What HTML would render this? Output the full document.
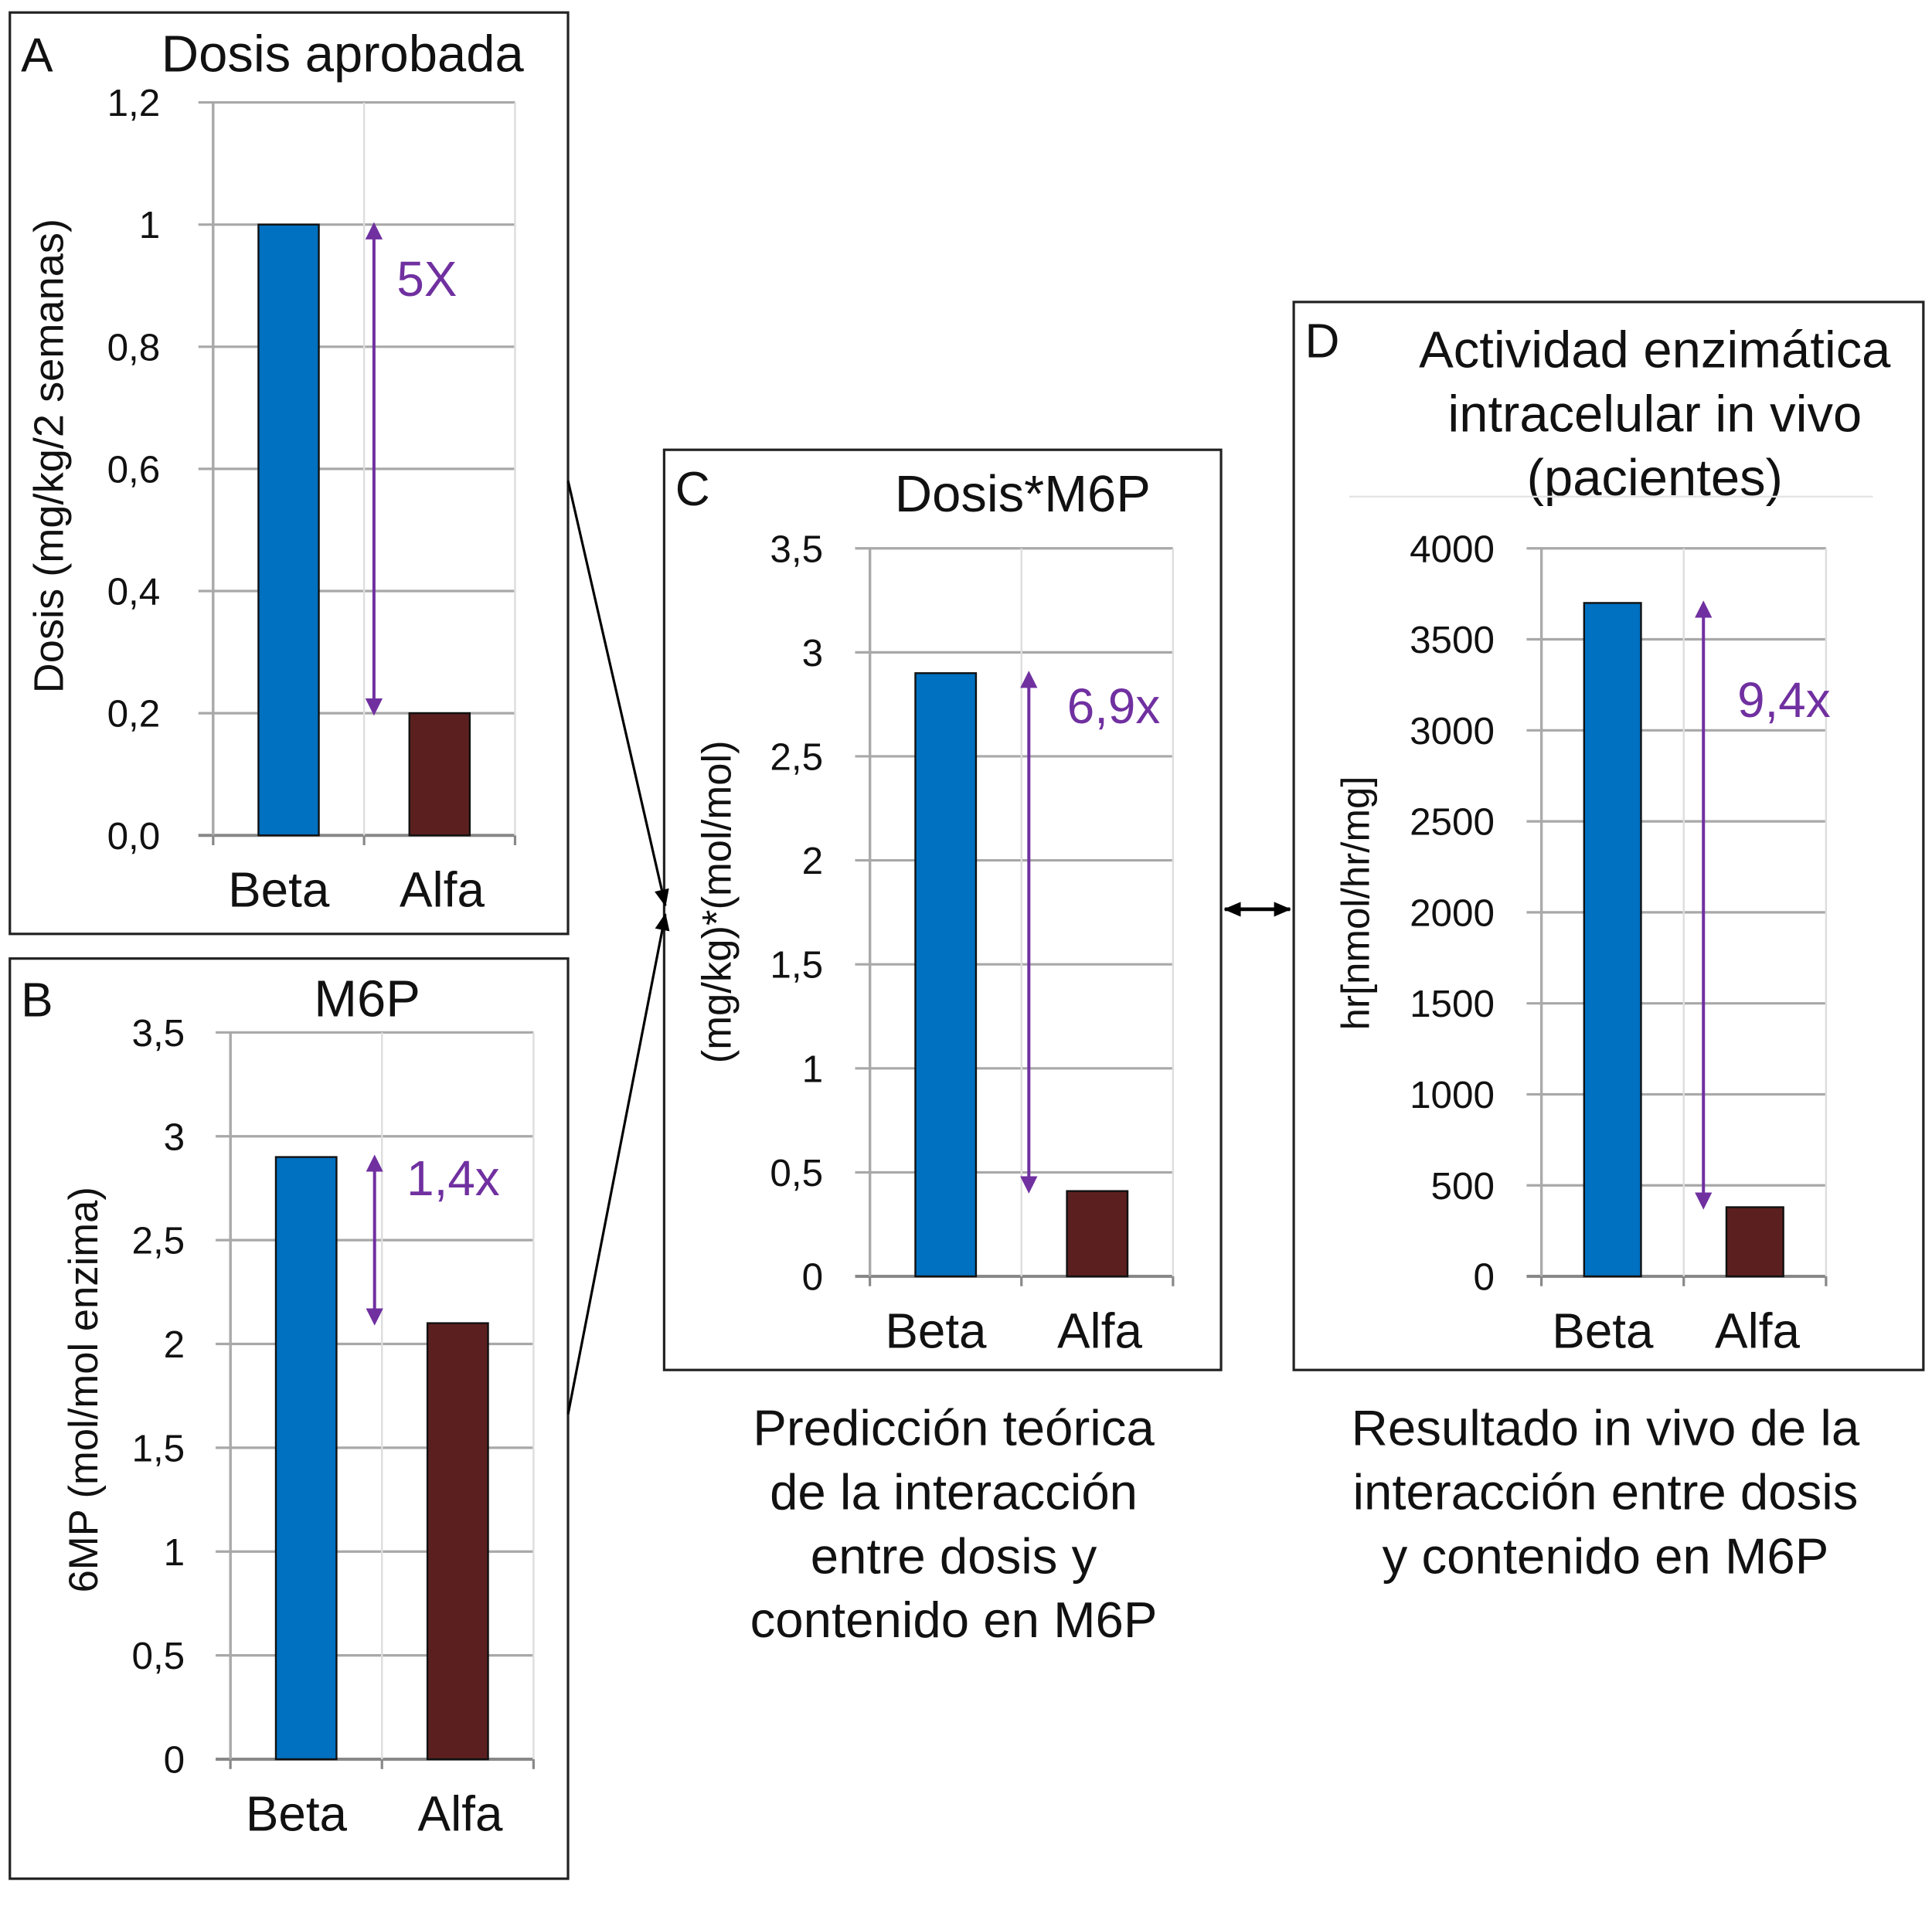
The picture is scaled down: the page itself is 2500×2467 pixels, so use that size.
<!DOCTYPE html>
<html><head><meta charset="utf-8"><style>
html,body{margin:0;padding:0;background:#fff}
svg{display:block}
text{font-family:"Liberation Sans",sans-serif}
</style></head><body>
<svg id="c" width="2500" height="2467" viewBox="0 0 1568 1547" xmlns="http://www.w3.org/2000/svg">
<defs>
<marker id="pa" markerWidth="14" markerHeight="20" refX="4" refY="10" orient="auto-start-reverse" markerUnits="userSpaceOnUse" viewBox="0 0 14 20"><path d="M0,3 L14,10 L0,17 z" fill="#7030a0"/></marker>
<marker id="ka" markerWidth="14" markerHeight="14" refX="13" refY="7" orient="auto-start-reverse" markerUnits="userSpaceOnUse"><path d="M0,1 L14,7 L0,13 z" fill="#000"/></marker>
</defs>
<g id="root"></g>
</svg>
<script>
const categories=["Beta","Alfa"];
const valuesA=[1.0,0.2];
const valuesB=[2.9,2.1];
const valuesC=[2.9,0.41];
const valuesD=[3700,380];
const ticksA=["0,0","0,2","0,4","0,6","0,8","1","1,2"];
const ticksB=["0","0,5","1","1,5","2","2,5","3","3,5"];
const ticksC=["0","0,5","1","1,5","2","2,5","3","3,5"];
const ticksD=["0","500","1000","1500","2000","2500","3000","3500","4000"];
const NS="http://www.w3.org/2000/svg";
const root=document.getElementById('root');
function el(t,a,txt,p){const e=document.createElementNS(NS,t);for(const k in a)e.setAttribute(k,a[k]);if(txt!=null)e.textContent=txt;(p||root).appendChild(e);return e;}
const colors=["#0070c0","#5c1f1f"];
function panel(o){
  const g=el('g',{});
  
  
  const b=el('rect',{x:o.box[0],y:o.box[1],width:o.box[2]-o.box[0],height:o.box[3]-o.box[1],fill:'none',stroke:'#222','stroke-width':2},null,g);
  
  
  const yS=v=>o.y0-(v/o.max)*(o.y0-o.y1);
  const n=o.ticks.length;
  for(let i=0;i<n;i++){
    const v=o.max*i/(n-1), y=yS(v);
    const gl=el('line',{x1:o.x0-12,x2:o.x1,y1:y,y2:y,stroke:i==0?'#888':'#a8a8a8','stroke-width':i==0?2.5:2},null,g);
    
    
    const t=el('text',{x:o.tx,y:y+11,'text-anchor':'end','font-size':31,fill:'#111'},o.ticks[i],g);
    
    
  }
  const xm=(o.x0+o.x1)/2;
  [o.x0,xm,o.x1].forEach((x,i)=>{const l=el('line',{x1:x,x2:x,y1:i==0?o.y1:o.y0-0,y2:o.y0+8,stroke:'#888','stroke-width':2},null,g);
    });
  el('line',{x1:o.x0,x2:o.x0,y1:o.y1,y2:o.y0,stroke:'#aaa','stroke-width':2},null,g);
  el('line',{x1:xm,x2:xm,y1:o.y1,y2:o.y0,stroke:'#ddd','stroke-width':1.5},null,g);
  el('line',{x1:o.x1,x2:o.x1,y1:o.y1,y2:o.y0,stroke:'#ddd','stroke-width':1.5},null,g);
  const cw=(o.x1-o.x0)/categories.length;
  o.vals.forEach((v,i)=>{
    const cx=o.x0+cw*(i+0.5), w=cw*0.4;
    const r=el('rect',{x:cx-w/2,y:yS(v),width:w,height:o.y0-yS(v),fill:colors[i],stroke:'#111','stroke-width':1.5},null,g);
    
    
    const t=el('text',{x:cx+(i==0?-8:2),y:o.y0+58,'text-anchor':'middle','font-size':40,fill:'#111'},categories[i],g);
    
    
  });
  const ax=o.x0+cw+o.ao;
  const ar=el('line',{x1:ax,x2:ax,y1:yS(o.vals[0])+8,y2:yS(o.vals[1])-8,stroke:'#7030a0','stroke-width':2.5,'marker-start':'url(#pa)','marker-end':'url(#pa)'},null,g);
  
  
  const rl=el('text',{x:o.rx,y:o.ry,'font-size':40,fill:'#7030a0'},o.ratio,g);
  
  
  const L=el('text',{x:o.box[0]+9,y:o.ly,'font-size':39,fill:'#111'},o.id.toUpperCase(),g);
  
  
  o.title.forEach((s,i)=>{const t=el('text',{x:o.titx,y:o.tity+i*52,'text-anchor':'middle','font-size':42,fill:'#111'},s,g);
    });
  const yt=el('text',{x:0,y:0,'text-anchor':'middle','font-size':o.yfs||32,fill:'#111',transform:`translate(${o.ytx},${o.yty}) rotate(-90)`},o.ytitle,g);
  
  
}
panel({id:'a',box:[8,10,461,758],x0:173,x1:418,y0:678,y1:83,max:1.2,ticks:ticksA,vals:valuesA,tx:130,ratio:'5X',rx:322,ry:240,ly:58,title:['Dosis aprobada'],titx:278,tity:58,ytitle:'Dosis (mg/kg/2 semanas)',yfs:34,ytx:51,yty:370,ao:8});
panel({id:'b',box:[8,778,461,1525],x0:187,x1:433,y0:1428,y1:838,max:3.5,ticks:ticksB,vals:valuesB,tx:150,ratio:'1,4x',rx:330,ry:970,ly:825,title:['M6P'],titx:298,tity:825,ytitle:'6MP (mol/mol enzima)',yfs:33,ytx:79,yty:1128,ao:-6});
panel({id:'c',box:[539,365,991,1112],x0:706,x1:952,y0:1036,y1:445,max:3.5,ticks:ticksC,vals:valuesC,tx:668,ratio:'6,9x',rx:866,ry:587,ly:410,title:['Dosis*M6P'],titx:830,tity:415,ytitle:'(mg/kg)*(mol/mol)',yfs:33,ytx:593,yty:732,ao:6});
panel({id:'d',box:[1050,245,1561,1112],x0:1251,x1:1482,y0:1036,y1:445,max:4000,ticks:ticksD,vals:valuesD,tx:1213,ratio:'9,4x',rx:1410,ry:582,ly:290,title:['Actividad enzimática','intracelular in vivo','(pacientes)'],titx:1343,tity:298,ytitle:'hr[nmol/hr/mg]',ytx:1111,yty:733,ao:16});
el('line',{x1:1095,x2:1520,y1:403,y2:403,stroke:'#e4e4e4','stroke-width':1.5});
[[461,390,540,735],[461,1148,540,742]].forEach(c=>{const l=el('line',{x1:c[0],y1:c[1],x2:c[2],y2:c[3],stroke:'#000','stroke-width':2,'marker-end':'url(#ka)'});
  });
const da=el('line',{x1:994,x2:1047,y1:738,y2:738,stroke:'#000','stroke-width':3,'marker-start':'url(#ka)','marker-end':'url(#ka)'});


['Predicción teórica','de la interacción','entre dosis y','contenido en M6P'].forEach((s,i)=>{const t=el('text',{x:774,y:1173+i*52,'text-anchor':'middle','font-size':41,fill:'#111'},s);
  });
['Resultado in vivo de la','interacción entre dosis','y contenido en M6P'].forEach((s,i)=>{const t=el('text',{x:1303,y:1173+i*52,'text-anchor':'middle','font-size':41,fill:'#111'},s);
  });
</script>
</body></html>
